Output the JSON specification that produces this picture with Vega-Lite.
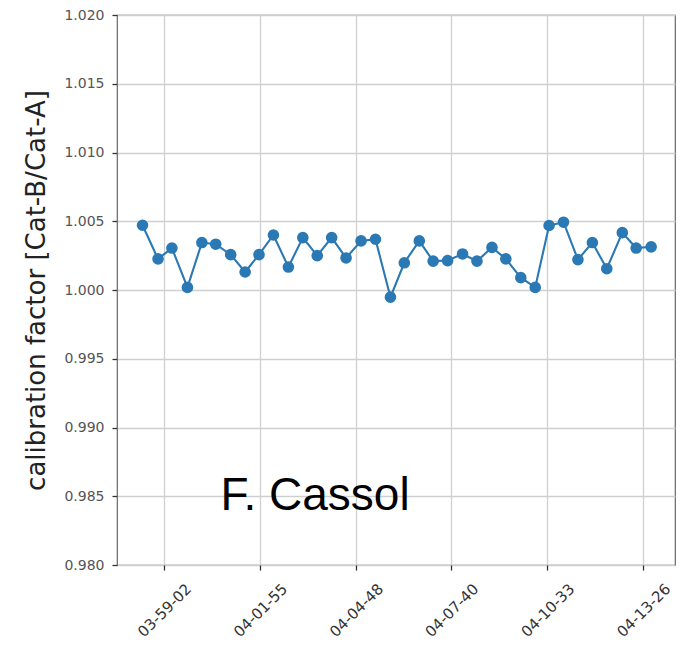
{
  "$schema": "https://vega.github.io/schema/vega-lite/v6.json",
  "width": 558,
  "height": 550,
  "autosize": {"type": "none"},
  "padding": {"left": 117, "top": 15, "right": 8, "bottom": 83},
  "background": "white",
  "config": {
    "view": {"stroke": "#666", "strokeWidth": 1.2},
    "axis": {
      "labelFont": "DejaVu Sans",
      "labelColor": "#555",
      "titleFont": "DejaVu Sans",
      "titleColor": "#222",
      "gridColor": "#cfcfcf",
      "gridWidth": 1.3,
      "tickColor": "#333",
      "tickSize": 5,
      "tickWidth": 1.3,
      "domain": false
    }
  },
  "datasets": {
    "pts": [
      {"t": "2020-01-01T03:58:23Z", "f": 1.00471},
      {"t": "2020-01-01T03:58:51Z", "f": 1.00226},
      {"t": "2020-01-01T03:59:16Z", "f": 1.00305},
      {"t": "2020-01-01T03:59:44Z", "f": 1.00019},
      {"t": "2020-01-01T04:00:10Z", "f": 1.00345},
      {"t": "2020-01-01T04:00:35Z", "f": 1.00333},
      {"t": "2020-01-01T04:01:02Z", "f": 1.00257},
      {"t": "2020-01-01T04:01:28Z", "f": 1.00131},
      {"t": "2020-01-01T04:01:53Z", "f": 1.00257},
      {"t": "2020-01-01T04:02:19Z", "f": 1.00400},
      {"t": "2020-01-01T04:02:46Z", "f": 1.00167},
      {"t": "2020-01-01T04:03:12Z", "f": 1.00381},
      {"t": "2020-01-01T04:03:38Z", "f": 1.00250},
      {"t": "2020-01-01T04:04:04Z", "f": 1.00381},
      {"t": "2020-01-01T04:04:30Z", "f": 1.00233},
      {"t": "2020-01-01T04:04:57Z", "f": 1.00357},
      {"t": "2020-01-01T04:05:23Z", "f": 1.00369},
      {"t": "2020-01-01T04:05:50Z", "f": 0.99948},
      {"t": "2020-01-01T04:06:15Z", "f": 1.00198},
      {"t": "2020-01-01T04:06:42Z", "f": 1.00357},
      {"t": "2020-01-01T04:07:07Z", "f": 1.00210},
      {"t": "2020-01-01T04:07:33Z", "f": 1.00214},
      {"t": "2020-01-01T04:08:00Z", "f": 1.00262},
      {"t": "2020-01-01T04:08:26Z", "f": 1.00210},
      {"t": "2020-01-01T04:08:53Z", "f": 1.00310},
      {"t": "2020-01-01T04:09:18Z", "f": 1.00226},
      {"t": "2020-01-01T04:09:45Z", "f": 1.00090},
      {"t": "2020-01-01T04:10:11Z", "f": 1.00019},
      {"t": "2020-01-01T04:10:36Z", "f": 1.00469},
      {"t": "2020-01-01T04:11:02Z", "f": 1.00493},
      {"t": "2020-01-01T04:11:28Z", "f": 1.00221},
      {"t": "2020-01-01T04:11:54Z", "f": 1.00345},
      {"t": "2020-01-01T04:12:20Z", "f": 1.00155},
      {"t": "2020-01-01T04:12:48Z", "f": 1.00417},
      {"t": "2020-01-01T04:13:13Z", "f": 1.00305},
      {"t": "2020-01-01T04:13:40Z", "f": 1.00314}
    ],
    "note": [
      {"t": "2020-01-01T04:03:34Z", "f": 0.9840, "label": "F. Cassol"}
    ]
  },
  "encoding": {
    "x": {
      "field": "t",
      "type": "temporal",
      "title": null,
      "scale": {
        "type": "utc",
        "domain": ["2020-01-01T03:57:37Z", "2020-01-01T04:14:23Z"]
      },
      "axis": {
        "values": [
          {"year": 2020, "month": 1, "date": 1, "hours": 3, "minutes": 59, "seconds": 2, "utc": true},
          {"year": 2020, "month": 1, "date": 1, "hours": 4, "minutes": 1, "seconds": 55, "utc": true},
          {"year": 2020, "month": 1, "date": 1, "hours": 4, "minutes": 4, "seconds": 48, "utc": true},
          {"year": 2020, "month": 1, "date": 1, "hours": 4, "minutes": 7, "seconds": 40, "utc": true},
          {"year": 2020, "month": 1, "date": 1, "hours": 4, "minutes": 10, "seconds": 33, "utc": true},
          {"year": 2020, "month": 1, "date": 1, "hours": 4, "minutes": 13, "seconds": 26, "utc": true}
        ],
        "format": "%H-%M-%S",
        "labelAngle": -45,
        "labelAlign": "center",
        "labelBaseline": "middle",
        "labelPadding": 40,
        "labelFontSize": 15,
        "labelColor": "#333"
      }
    },
    "y": {
      "field": "f",
      "type": "quantitative",
      "title": "calibration factor [Cat-B/Cat-A]",
      "scale": {"domain": [0.98, 1.02], "nice": false, "zero": false},
      "axis": {
        "values": [0.98, 0.985, 0.99, 0.995, 1.0, 1.005, 1.01, 1.015, 1.02],
        "format": ".3f",
        "labelFontSize": 14,
        "labelPadding": 8,
        "titleFontSize": 26,
        "titleFontWeight": "normal",
        "titlePadding": 14
      }
    }
  },
  "layer": [
    {
      "data": {"name": "pts"},
      "mark": {"type": "line", "color": "#2a78b4", "strokeWidth": 2.1}
    },
    {
      "data": {"name": "pts"},
      "mark": {"type": "point", "filled": true, "color": "#2a78b4", "size": 135, "opacity": 1}
    },
    {
      "data": {"name": "note"},
      "mark": {"type": "text", "font": "Liberation Sans", "fontSize": 46, "color": "black", "align": "center", "baseline": "alphabetic"},
      "encoding": {"text": {"field": "label"}}
    }
  ]
}
